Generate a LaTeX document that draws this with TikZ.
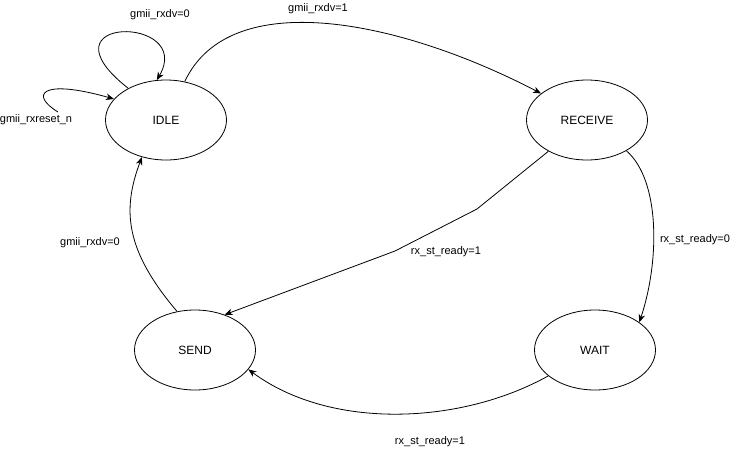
\documentclass[tikz,border=0pt]{standalone}
\usepackage{fontspec}
\setmainfont{Liberation Sans}
\usetikzlibrary{arrows.meta,shapes.geometric}
\begin{document}
\begin{tikzpicture}[x=1pt,y=-1pt,
  state/.style={draw, ellipse, minimum width=121pt, minimum height=80pt, inner sep=0pt,
    font=\fontsize{12}{14}\selectfont, line width=0.8pt},
  lbl/.style={font=\fontsize{11}{13}\selectfont, inner sep=0pt},
  edge/.style={draw, line width=0.8pt, -{Stealth[length=8pt,width=6.5pt,inset=2.5pt]}}]
\useasboundingbox (0,0) rectangle (731,448);
\fill[white] (0,0) rectangle (731,448);
\node[state] (idle) at (166,120) {IDLE};
\node[state] (receive) at (587,120) {RECEIVE};
\node[state] (wait) at (595,350) {WAIT};
\node[state] (send) at (195,350) {SEND};
\coordinate (rs) at (58,112);
\draw[edge] (idle.140) .. controls (35,15) and (195,15) .. (idle.103);
\draw[edge] (rs) .. controls (30,95) and (40,78) .. (idle.158);
\draw[edge] (idle.64) .. controls (230,-15) and (400,20) .. (receive.150);
\draw[edge] (receive.219) -- (477,209) -- (395,251) -- (send.50);
\draw[edge] (receive.322) .. controls (660,180) and (660,260) .. (wait.32);
\draw[edge] (wait.209) .. controls (460,425) and (330,430) .. (send.340);
\draw[edge] (send.115) .. controls (125,250) and (122,210) .. (idle.237);
\node[lbl] (l1) at (160,15) {gmii\_rxdv=0};
\node[lbl] (l2) at (36,120) {gmii\_rxreset\_n};
\node[lbl] (l3) at (318,9) {gmii\_rxdv=1};
\node[lbl] (l4) at (446,252) {rx\_st\_ready=1};
\node[lbl] (l5) at (695,240) {rx\_st\_ready=0};
\node[lbl] (l6) at (430,442) {rx\_st\_ready=1};
\node[lbl] (l7) at (90,243) {gmii\_rxdv=0};
\end{tikzpicture}
\end{document}
